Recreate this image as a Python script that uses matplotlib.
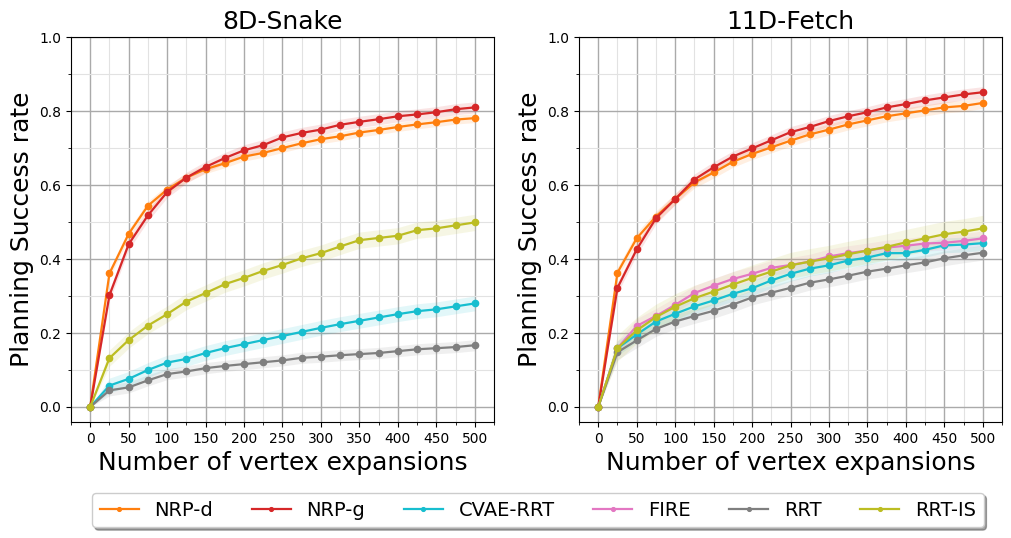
import numpy as np
import matplotlib
matplotlib.use("Agg")
import matplotlib.pyplot as plt
from matplotlib.ticker import MultipleLocator

# vertex expansion budgets
steps = [0, 25, 50, 75, 100, 125, 150, 175, 200, 225, 250,
         275, 300, 325, 350, 375, 400, 425, 450, 475, 500]

# 8D-Snake success rates
snake_nrp_d = [0, 0.361, 0.468, 0.544, 0.588, 0.620, 0.643, 0.659, 0.677, 0.687, 0.700,
               0.713, 0.724, 0.732, 0.742, 0.749, 0.757, 0.764, 0.770, 0.777, 0.781]
snake_nrp_g = [0, 0.302, 0.440, 0.518, 0.581, 0.620, 0.649, 0.673, 0.694, 0.708, 0.729,
               0.741, 0.750, 0.763, 0.771, 0.778, 0.786, 0.791, 0.797, 0.805, 0.810]
snake_cvae = [0, 0.058, 0.076, 0.100, 0.120, 0.130, 0.146, 0.159, 0.170, 0.181, 0.192,
              0.203, 0.214, 0.224, 0.233, 0.242, 0.251, 0.259, 0.264, 0.272, 0.280]
snake_rrt = [0, 0.045, 0.053, 0.072, 0.089, 0.096, 0.105, 0.111, 0.116, 0.121, 0.126,
             0.133, 0.136, 0.140, 0.143, 0.146, 0.151, 0.156, 0.159, 0.162, 0.167]
snake_rrt_is = [0, 0.132, 0.181, 0.220, 0.251, 0.285, 0.308, 0.332, 0.349, 0.368, 0.384,
                0.402, 0.416, 0.434, 0.451, 0.457, 0.463, 0.478, 0.483, 0.491, 0.499]

# 11D-Fetch success rates
fetch_nrp_d = [0, 0.363, 0.456, 0.515, 0.562, 0.607, 0.634, 0.663, 0.684, 0.702, 0.720,
               0.737, 0.750, 0.764, 0.775, 0.786, 0.794, 0.802, 0.810, 0.814, 0.822]
fetch_nrp_g = [0, 0.322, 0.426, 0.510, 0.562, 0.615, 0.648, 0.677, 0.699, 0.721, 0.743,
               0.757, 0.773, 0.786, 0.797, 0.810, 0.819, 0.829, 0.837, 0.845, 0.851]
fetch_cvae = [0, 0.159, 0.196, 0.231, 0.252, 0.272, 0.288, 0.306, 0.321, 0.342, 0.360,
              0.374, 0.383, 0.396, 0.404, 0.416, 0.416, 0.425, 0.437, 0.439, 0.443]
fetch_fire = [0, 0.159, 0.219, 0.246, 0.276, 0.308, 0.328, 0.346, 0.360, 0.376, 0.384,
              0.393, 0.407, 0.416, 0.423, 0.431, 0.436, 0.442, 0.444, 0.449, 0.456]
fetch_rrt = [0, 0.148, 0.180, 0.211, 0.231, 0.246, 0.260, 0.277, 0.296, 0.309, 0.322,
             0.336, 0.345, 0.355, 0.366, 0.374, 0.383, 0.391, 0.402, 0.410, 0.417]
fetch_rrt_is = [0, 0.159, 0.207, 0.243, 0.271, 0.294, 0.312, 0.331, 0.349, 0.366, 0.383,
                0.393, 0.402, 0.413, 0.423, 0.433, 0.445, 0.456, 0.467, 0.474, 0.483]

# rough spread of the shaded bands
snake_spread = {"NRP-d": 0.012, "NRP-g": 0.015, "CVAE-RRT": 0.02, "RRT": 0.015, "RRT-IS": 0.022}
fetch_spread = {"NRP-d": 0.015, "NRP-g": 0.015, "CVAE-RRT": 0.02, "FIRE": 0.02, "RRT": 0.02, "RRT-IS": 0.035}

colors = {"NRP-d": "tab:orange", "NRP-g": "tab:red", "CVAE-RRT": "tab:cyan",
          "FIRE": "tab:pink", "RRT": "tab:gray", "RRT-IS": "tab:olive"}
names = ["NRP-d", "NRP-g", "CVAE-RRT", "FIRE", "RRT", "RRT-IS"]

snake = {"NRP-d": snake_nrp_d, "NRP-g": snake_nrp_g, "CVAE-RRT": snake_cvae,
         "RRT": snake_rrt, "RRT-IS": snake_rrt_is}
fetch = {"NRP-d": fetch_nrp_d, "NRP-g": fetch_nrp_g, "CVAE-RRT": fetch_cvae,
         "FIRE": fetch_fire, "RRT": fetch_rrt, "RRT-IS": fetch_rrt_is}

fig = plt.figure(figsize=(10.11, 5.38), dpi=100)
ax1 = fig.add_axes([0.0702, 0.216, 0.4184, 0.715])
ax2 = fig.add_axes([0.5727, 0.216, 0.4184, 0.715])

x = np.array(steps)
handles = {}
for ax, title, data, spread in [(ax1, "8D-Snake", snake, snake_spread),
                                (ax2, "11D-Fetch", fetch, fetch_spread)]:
    for name in names:
        if name not in data:
            continue
        y = np.array(data[name])
        s = spread[name] * (x > 0)
        ax.fill_between(x, y - s, y + s, color=colors[name], alpha=0.12, linewidth=0)
        h, = ax.plot(x, y, "o-", color=colors[name], markersize=4.5, linewidth=1.6, label=name)
        handles[name] = h
    ax.set_title(title, fontsize=18)
    ax.set_xlabel("Number of vertex expansions", fontsize=18)
    ax.set_ylabel("Planning Success rate", fontsize=18)
    ax.set_xlim(-25, 525)
    ax.set_ylim(-0.04, 1.0)
    ax.xaxis.set_major_locator(MultipleLocator(50))
    ax.xaxis.set_minor_locator(MultipleLocator(25))
    ax.yaxis.set_major_locator(MultipleLocator(0.2))
    ax.yaxis.set_minor_locator(MultipleLocator(0.1))
    ax.grid(which="major", color="#aaaaaa", linewidth=1.0)
    ax.grid(which="minor", color="#e2e2e2", linewidth=0.8)
    ax.set_axisbelow(True)
    ax.tick_params(labelsize=10)

fig.legend([handles[n] for n in names], names, loc="center", bbox_to_anchor=(0.532, 0.052),
           ncol=6, fontsize=14, shadow=True, fancybox=True, markerscale=0.6,
           columnspacing=2.0, handlelength=2.0)

fig.savefig("out.png", dpi=100)
